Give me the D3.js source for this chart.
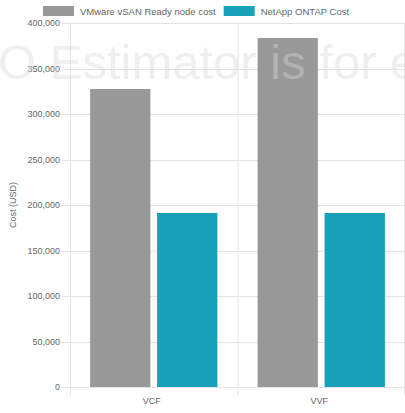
<!DOCTYPE html>
<html><head><meta charset="utf-8">
<script src="https://cdn.jsdelivr.net/npm/d3@7"></script>
<style>body{margin:0;background:#fff}svg{display:block}</style>
</head><body><svg id="c" width="405" height="413"></svg>
<script>
const categories = ["VCF", "VVF"];
const seriesNames = ["VMware vSAN Ready node cost", "NetApp ONTAP Cost"];
const vsanCost = [327500, 383500];
const ontapCost = [191200, 191200];
const yTicks = [0, 50000, 100000, 150000, 200000, 250000, 300000, 350000, 400000];
const colors = ["#999999", "#17a2b8"];
const watermark = "TCO Estimator is for estimation purposes only";

const svg = d3.select("#c");
const W = 405, H = 413;
const m = {left: 70, right: 0, top: 23, bottom: 26};
const font = "Helvetica, Arial, 'Liberation Sans', sans-serif";

const x = d3.scaleBand().domain(categories).range([m.left, W - m.right]).paddingInner(0).paddingOuter(0);
const y = d3.scaleLinear().domain([0, 400000]).range([H - m.bottom, m.top]);

// horizontal gridlines + ticks
const g = svg.append("g");
yTicks.forEach(t => {
  g.append("line").attr("x1", m.left - 8).attr("x2", W - m.right)
    .attr("y1", Math.round(y(t)) + 0.5).attr("y2", Math.round(y(t)) + 0.5)
    .attr("stroke", "#e3e3e3").attr("stroke-width", 1);
});
// vertical gridlines at band edges
[m.left + 0.5, x("VVF") + 0.5, W - m.right - 0.5].forEach(v => {
  g.append("line").attr("x1", v).attr("x2", v).attr("y1", m.top).attr("y2", H - m.bottom + 8)
    .attr("stroke", "#e3e3e3").attr("stroke-width", 1);
});

// y tick labels
const fmt = d3.format(",");
yTicks.forEach(t => {
  svg.append("text").attr("x", m.left - 10).attr("y", y(t) + 3)
    .attr("text-anchor", "end").attr("font-family", font).attr("font-size", 9)
    .attr("fill", "#666").text(fmt(t));
});
// x labels
categories.forEach(c => {
  svg.append("text").attr("x", x(c) + x.bandwidth() / 2 - 2).attr("y", H - m.bottom + 17)
    .attr("text-anchor", "middle").attr("font-family", font).attr("font-size", 9)
    .attr("fill", "#666").text(c);
});
// y title
svg.append("text").attr("transform", `translate(16,${(m.top + H - m.bottom) / 2}) rotate(-90)`)
  .attr("text-anchor", "middle").attr("font-family", font).attr("font-size", 9)
  .attr("fill", "#666").text("Cost (USD)");

// bars
const inner = d3.scaleBand().domain([0, 1]).range([0, x.bandwidth() * 0.8]);
const series = [vsanCost, ontapCost];
series.forEach((vals, si) => {
  categories.forEach((c, ci) => {
    const slot = inner.bandwidth();
    const bw = slot * 0.9;
    const x0 = x(c) + x.bandwidth() * 0.1 + inner(si) + (slot - bw) / 2;
    svg.append("rect").attr("x", x0).attr("width", bw)
      .attr("y", y(vals[ci])).attr("height", y(0) - y(vals[ci]))
      .attr("fill", colors[si]);
  });
});

// legend
const lg = svg.append("g");
let lx = 43;
seriesNames.forEach((n, i) => {
  lg.append("rect").attr("x", lx).attr("y", 6).attr("width", 31).attr("height", 10).attr("fill", colors[i]);
  const t = lg.append("text").attr("x", lx + 37).attr("y", 14.5)
    .attr("font-family", font).attr("font-size", 9.5).attr("fill", "#666").text(n);
  lx = lx + 37 + t.node().getComputedTextLength() + 8;
});

// watermark
const wm = svg.append("text").attr("y", 79).attr("font-family", "'Liberation Sans', Arial, sans-serif")
  .attr("font-size", 49).attr("fill", "rgb(215,215,215)").attr("fill-opacity", 0.4)
  .text(watermark);
const tmp = svg.append("text").attr("font-family", "'Liberation Sans', Arial, sans-serif")
  .attr("font-size", 49).text("TC");
const off = tmp.node().getComputedTextLength();
tmp.remove();
wm.attr("x", -off - 2);
</script></body></html>
